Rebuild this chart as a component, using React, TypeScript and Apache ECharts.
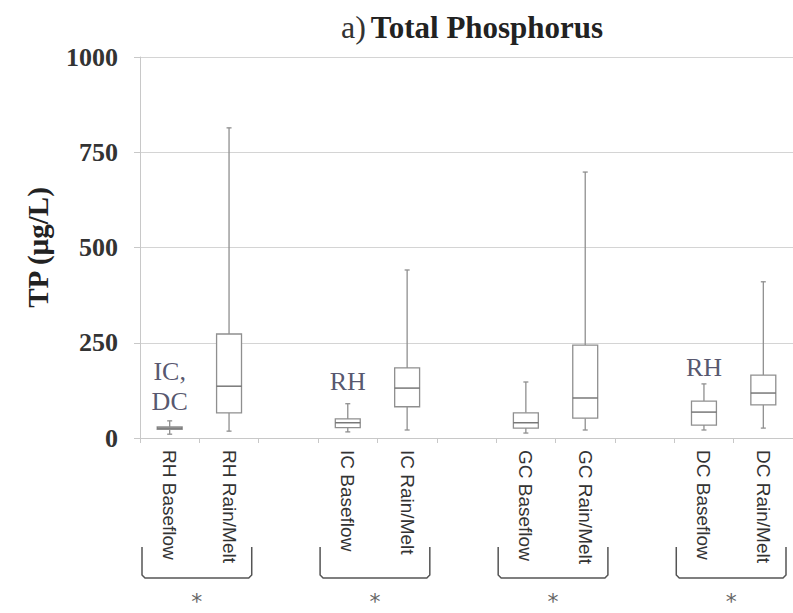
import React, { useEffect, useRef } from "react";
import * as echarts from "echarts";

// Axis categories (empty strings are the gaps between site groups)
const categories = [
  "RH Baseflow", "RH Rain/Melt", "",
  "IC Baseflow", "IC Rain/Melt", "",
  "GC Baseflow", "GC Rain/Melt", "",
  "DC Baseflow", "DC Rain/Melt",
];

// Box statistics (µg/L)
const boxNames = [
  "RH Baseflow", "RH Rain/Melt",
  "IC Baseflow", "IC Rain/Melt",
  "GC Baseflow", "GC Rain/Melt",
  "DC Baseflow", "DC Rain/Melt",
];
const boxMin = [10, 18, 16, 21, 13, 21, 21, 26];
const boxQ1 = [23, 66, 27, 82, 26, 52, 34, 87];
const boxMedian = [26, 136, 40, 131, 40, 105, 68, 118];
const boxQ3 = [29, 273, 50, 184, 66, 244, 97, 165];
const boxMax = [45, 814, 90, 441, 147, 698, 142, 410];

// Significance annotations above boxes
const noteCategories = ["RH Baseflow", "IC Baseflow", "DC Baseflow"];
const noteValues = [135, 147, 186];
const noteTexts = ["IC,\nDC", "RH", "RH"];

// Groups bracketed below the axis
const groupStarts = ["RH Baseflow", "IC Baseflow", "GC Baseflow", "DC Baseflow"];
const groupEnds = ["RH Rain/Melt", "IC Rain/Melt", "GC Rain/Melt", "DC Rain/Melt"];
const groupMarks = ["*", "*", "*", "*"];

const yTicks = { min: 0, max: 1000, interval: 250 };

export default function App() {
  const ref = useRef<HTMLDivElement>(null);
  useEffect(() => {
    if (!ref.current) return;
    const chart = echarts.init(ref.current, null, { renderer: "svg" });

    const boxData = boxNames.map((n, i) => [
      categories.indexOf(n), boxMin[i], boxQ1[i], boxMedian[i], boxQ3[i], boxMax[i],
    ]);
    const noteData = noteCategories.map((c, i) => ({
      value: [categories.indexOf(c), noteValues[i]],
      name: noteTexts[i],
    }));
    const groupData = groupStarts.map((s, i) => [
      categories.indexOf(s), categories.indexOf(groupEnds[i]), i,
    ]);

    const stroke = "#8f8f8f";

    chart.setOption({
      animation: false,
      backgroundColor: "#ffffff",
      title: {
        text: "{a|a)} {b|Total Phosphorus}",
        left: 336,
        top: 6,
        textStyle: {
          rich: {
            a: { fontFamily: "Liberation Serif", fontSize: 32, color: "#333", fontWeight: "normal" },
            b: { fontFamily: "Liberation Serif", fontSize: 31, color: "#222", fontWeight: "bold" },
          },
        },
      },
      grid: { left: 140, top: 57, width: 660, bottom: 175, containLabel: false },
      xAxis: {
        type: "category",
        data: categories,
        boundaryGap: true,
        axisLine: { show: true, lineStyle: { color: "#c8c8c8", width: 1 } },
        axisTick: { show: true, length: 5, lineStyle: { color: "#c8c8c8" } },
        axisLabel: {
          interval: 0,
          rotate: -90,
          margin: 12,
          fontFamily: "Liberation Sans",
          fontSize: 19,
          color: "#333",
        },
        splitLine: { show: false },
      },
      yAxis: {
        type: "value",
        min: yTicks.min,
        max: yTicks.max,
        interval: yTicks.interval,
        name: "TP (µg/L)",
        nameLocation: "middle",
        nameGap: 88,
        nameRotate: 90,
        nameTextStyle: { fontFamily: "Liberation Serif", fontSize: 29, fontWeight: "bold", color: "#222" },
        axisLine: { show: true, lineStyle: { color: "#c8c8c8" } },
        axisTick: { show: true, length: 6, lineStyle: { color: "#c8c8c8" } },
        axisLabel: {
          fontFamily: "Liberation Serif",
          fontSize: 26,
          fontWeight: "bold",
          color: "#333",
          margin: 22,
          formatter: (v: number) => String(v),
        },
        splitLine: { show: true, lineStyle: { color: "#d4d4d4", width: 1.2 } },
      },
      series: [
        {
          type: "custom",
          name: "boxes",
          clip: false,
          data: boxData,
          renderItem: (params: any, api: any) => {
            const x = api.value(0);
            const pMin = api.coord([x, api.value(1)]);
            const pQ1 = api.coord([x, api.value(2)]);
            const pMed = api.coord([x, api.value(3)]);
            const pQ3 = api.coord([x, api.value(4)]);
            const pMax = api.coord([x, api.value(5)]);
            const bw = api.size([1, 0])[0] * 0.42;
            const cx = pMed[0];
            const cap = 2.5;
            const ls = { stroke, lineWidth: 1.3, fill: null };
            return {
              type: "group",
              children: [
                { type: "line", shape: { x1: cx, y1: pMax[1], x2: cx, y2: pQ3[1] }, style: ls },
                { type: "line", shape: { x1: cx, y1: pQ1[1], x2: cx, y2: pMin[1] }, style: ls },
                { type: "line", shape: { x1: cx - cap, y1: pMax[1], x2: cx + cap, y2: pMax[1] }, style: ls },
                { type: "line", shape: { x1: cx - cap, y1: pMin[1], x2: cx + cap, y2: pMin[1] }, style: ls },
                {
                  type: "rect",
                  shape: { x: cx - bw / 2, y: pQ3[1], width: bw, height: pQ1[1] - pQ3[1] },
                  style: { stroke, lineWidth: 1.3, fill: "#ffffff" },
                },
                {
                  type: "line",
                  shape: { x1: cx - bw / 2, y1: pMed[1], x2: cx + bw / 2, y2: pMed[1] },
                  style: { stroke: "#6f6f6f", lineWidth: 1.4 },
                },
              ],
            };
          },
        },
        {
          type: "scatter",
          name: "notes",
          data: noteData,
          symbolSize: 1,
          itemStyle: { color: "rgba(0,0,0,0)" },
          label: {
            show: true,
            position: "inside",
            formatter: (p: any) => p.name,
            fontFamily: "Liberation Serif",
            fontSize: 26,
            lineHeight: 30,
            color: "#2a2a48",
          },
          z: 5,
        },
        {
          type: "custom",
          name: "groups",
          clip: false,
          data: groupData,
          renderItem: (params: any, api: any) => {
            const a = api.coord([api.value(0), 0]);
            const b = api.coord([api.value(1), 0]);
            const half = api.size([1, 0])[0] / 2;
            const left = a[0] - half + 2;
            const right = b[0] + half - 7;
            const yTop = a[1] + 109;
            const yBot = a[1] + 140;
            const mark = groupMarks[api.value(2)];
            return {
              type: "group",
              children: [
                {
                  type: "polyline",
                  shape: { points: [[left, yTop], [left, yBot - 3], [left + 3, yBot], [right - 3, yBot], [right, yBot - 3], [right, yTop]] },
                  style: { stroke: "#555", lineWidth: 1.5, fill: null },
                },
                {
                  type: "text",
                  style: {
                    text: mark,
                    x: (left + right) / 2,
                    y: a[1] + 163,
                    align: "center",
                    verticalAlign: "middle",
                    fontFamily: "DejaVu Sans",
                    fontSize: 22,
                    fill: "#666",
                  },
                },
              ],
            };
          },
        },
      ],
    });
    return () => chart.dispose();
  }, []);
  return <div ref={ref} style={{ width: 793, height: 613, position: "absolute", left: 0, top: 0 }} />;
}
